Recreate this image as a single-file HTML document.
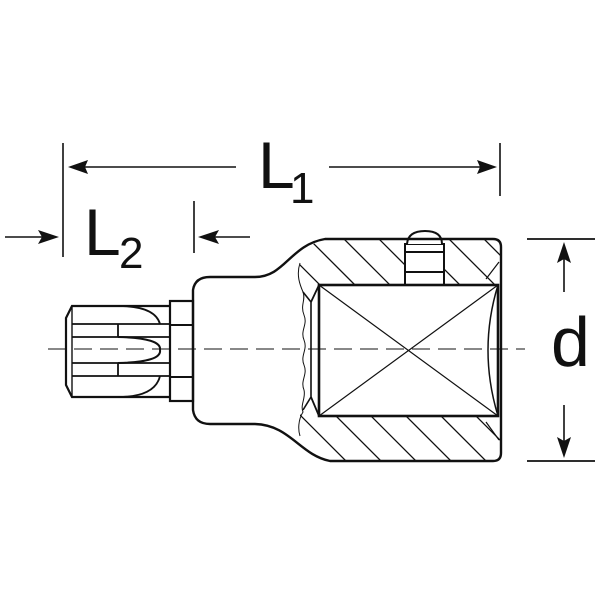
<!DOCTYPE html>
<html><head><meta charset="utf-8"><style>
html,body{margin:0;padding:0;background:#fff;}
svg{display:block}
text{font-family:"Liberation Sans",sans-serif;fill:#111}
</style></head><body>
<svg width="600" height="600" viewBox="0 0 600 600" xmlns="http://www.w3.org/2000/svg">
<defs>
<clipPath id="hatchTop"><path d="M300,262 C305,250 312,242 325,239 L493,239 Q501,239 501,247 L501,285 L319,285 L311,302 L300,292 Z"/></clipPath>
<clipPath id="hatchBot"><path d="M300,410 L311,397 L319,416 L501,416 L501,453 Q501,461 493,461 L330,461 C315,458 305,450 300,440 Z"/></clipPath>
</defs>
<g stroke="#111" fill="none" stroke-linecap="butt">
<!-- hatching -->
<g clip-path="url(#hatchTop)" stroke-width="1.3">
<path d="M290,220 l70,70 M325,220 l70,70 M360,220 l70,70 M395,220 l70,70 M430,220 l70,70 M465,220 l70,70 M500,220 l70,70 M270,235 l70,70"/>
</g>
<g clip-path="url(#hatchBot)" stroke-width="1.3">
<path d="M280,395 l80,80 M315,395 l80,80 M350,395 l80,80 M385,395 l80,80 M420,395 l80,80 M455,395 l80,80 M490,395 l80,80"/>
</g>
<!-- pin -->
<rect x="405" y="244" width="39" height="41" fill="#fff" stroke-width="2"/>
<path d="M405,252 L444,252 M405,272 L444,272" stroke-width="2"/>
<path d="M407,244 Q408,231 425,231 Q442,231 442,244" stroke-width="2" fill="#fff"/>
<!-- body outline -->
<path d="M193,290 Q195,277 210,277 L255,277 C285,277 290,245 325,239 L493,239 Q501,239 501,247 L501,453 Q501,461 493,461 L330,461 C300,455 290,425 255,424 L210,424 Q195,424 193,410 Z" stroke-width="2.4"/>
<!-- wavy line -->
<path d="M300,263 C296,275 300,285 303,292 C306,300 300,305 304,315 C308,325 300,330 304,340 C308,350 300,355 304,365 C308,375 300,380 304,390 C306,398 300,405 303,412 C298,420 298,430 300,436" stroke-width="1"/>
<path d="M303,292 L311,302 L311,397 L303,410" stroke-width="1.6"/>
<path d="M311,302 L319,285 M311,397 L319,416" stroke-width="1.8"/>
<!-- square -->
<rect x="319" y="285" width="179" height="131" stroke-width="2.6"/>
<path d="M319,285 L498,416 M319,416 L498,285" stroke-width="1.2"/>
<path d="M498,285 Q478,350 498,416" stroke-width="1.5"/>
<path d="M486,279 L499,262 M486,422 L499,440" stroke-width="1.2"/>
<!-- collar -->
<rect x="170" y="301" width="23" height="100" stroke-width="2.2"/>
<path d="M170,325 L193,325 M170,377 L193,377" stroke-width="2"/>
<!-- bit -->
<path d="M170,306 L118,306 L72,306 L66,318 L66,385 L72,397 L170,397" stroke-width="2.2"/>
<path d="M72,306 L72,397" stroke-width="1.4"/>
<path d="M72,324 L170,324 M72,337 L170,337 M72,363 L170,363 M72,376 L170,376" stroke-width="1.8"/>
<path d="M118,324 L118,337 M118,363 L118,376" stroke-width="1.8"/>
<path d="M118,337 Q162,338 160,350 Q162,362 118,363" stroke-width="2"/>
<path d="M118,306 Q155,306 160,324 M118,397 Q155,397 160,376" stroke-width="1.8"/>
<!-- centerline -->
<path d="M48,349 L525,349" stroke-width="1" stroke-dasharray="18,8"/>
<!-- dimension lines -->
<path d="M63,143 L63,257 M500,143 L500,196 M194,201 L194,253" stroke-width="1.6"/>
<path d="M80,167 L236,167 M329,167 L485,167" stroke-width="1.6"/>
<path d="M5,237 L45,237 M210,237 L250,237" stroke-width="1.6"/>
<path d="M527,239 L595,239 M527,461 L595,461" stroke-width="1.8"/>
<path d="M564,255 L564,292 M564,405 L564,445" stroke-width="1.6"/>
</g>
<g fill="#111">
<polygon points="68,167 88,160 85,167 88,174"/>
<polygon points="497,167 477,160 480,167 477,174"/>
<polygon points="59,237 38,230 42,237 38,244"/>
<polygon points="198,237 219,230 215,237 219,244"/>
<polygon points="564,242 557,263 564,259 571,263"/>
<polygon points="564,458 557,437 564,441 571,437"/>
</g>
<text x="258" y="188" font-size="66">L</text>
<text x="290" y="203" font-size="44">1</text>
<text x="84" y="255" font-size="66">L</text>
<text x="119" y="268" font-size="44">2</text>
<text x="551" y="366" font-size="70">d</text>
</svg>
</body></html>
